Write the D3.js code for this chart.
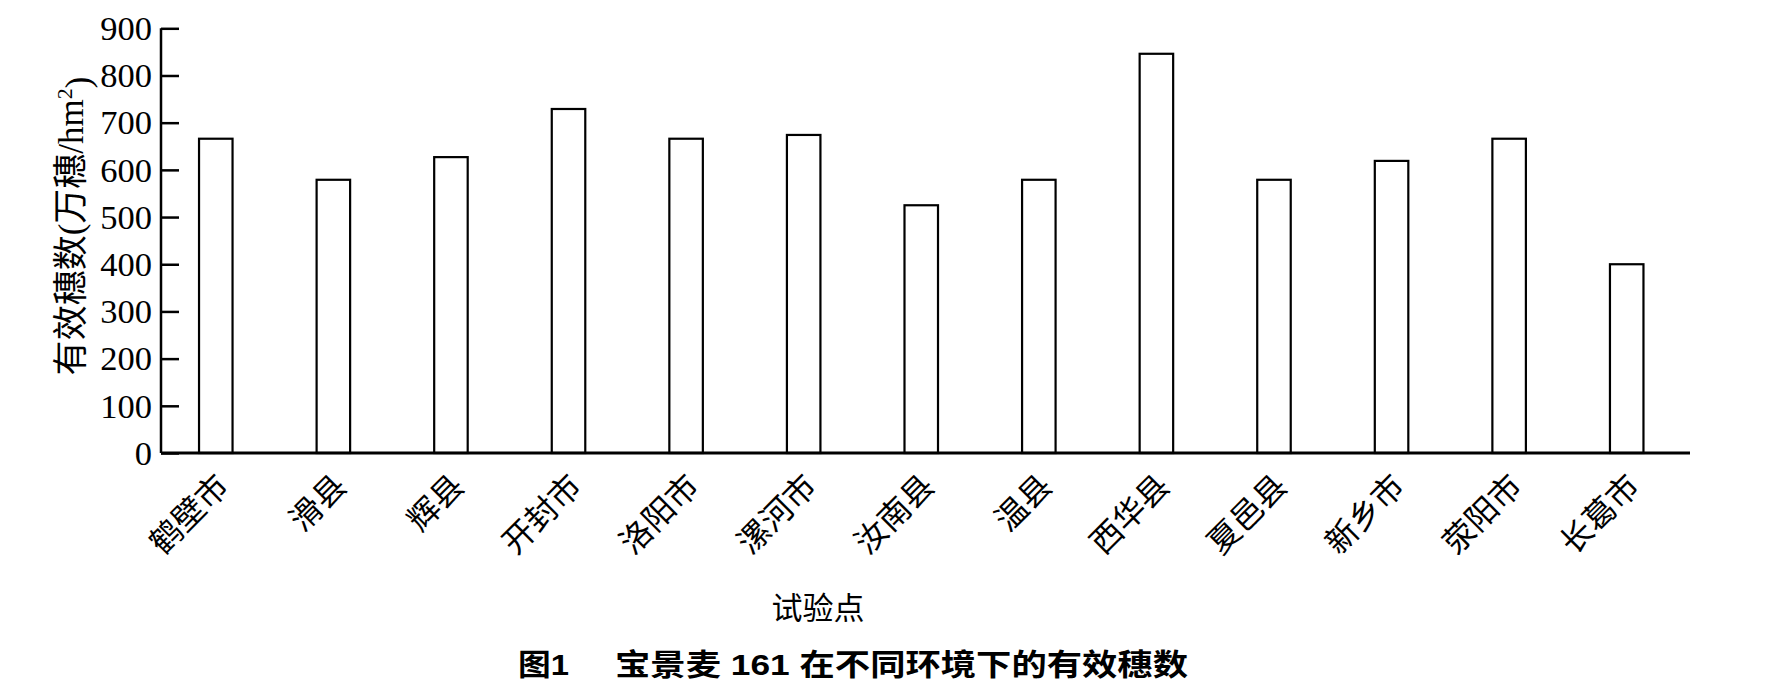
<!DOCTYPE html>
<html>
<head>
<meta charset="utf-8">
<script src="https://cdn.jsdelivr.net/npm/d3@7"></script>
<style>
  html, body { margin: 0; padding: 0; background: #fff; }
  svg { display: block; }
</style>
</head>
<body>
<svg id="chart" width="1780" height="696"></svg>
<script>
const categories = ["鹤壁市", "滑县", "辉县", "开封市", "洛阳市", "漯河市", "汝南县", "温县", "西华县", "夏邑县", "新乡市", "荥阳市", "长葛市"];
const values = [666, 579, 627, 729, 666, 674, 525, 579, 846, 579, 619, 666, 400];
const yTicks = [0, 100, 200, 300, 400, 500, 600, 700, 800, 900];
const yLabelMain = "有效穗数(万穗/hm";
const yLabelSup = "2";
const yLabelEnd = ")";
const xTitle = "试验点";
const captionNo = "图1";
const captionText = "宝景麦 161 在不同环境下的有效穗数";

const svg = d3.select("#chart");
const serif = "'Liberation Serif', 'Noto Sans CJK SC', serif";
const cjk = "'Noto Sans CJK SC', sans-serif";

const x = d3.scaleBand().domain(categories).range([157, 1685.5])
  .paddingInner(0.715).paddingOuter(0.3575);
const y = d3.scaleLinear().domain([0, 900]).range([453, 28.3]);

// bars
svg.append("g").selectAll("rect").data(values).join("rect")
  .attr("x", (d, i) => x(categories[i]))
  .attr("y", d => y(d))
  .attr("width", x.bandwidth())
  .attr("height", d => y(0) - y(d))
  .attr("fill", "#fff")
  .attr("stroke", "#000")
  .attr("stroke-width", 2.2);

// y axis (ticks inward)
const yAxis = d3.axisRight(y).tickValues(yTicks).tickSize(18).tickFormat("");
const gy = svg.append("g").attr("transform", "translate(161,0)").call(yAxis);
gy.select(".domain").attr("stroke", "#000").attr("stroke-width", 2.5).attr("d", `M0,${y(900)}V${y(0)}`);
gy.selectAll(".tick line").attr("stroke", "#000").attr("stroke-width", 2.5);

svg.append("g").selectAll("text").data(yTicks).join("text")
  .attr("x", 152)
  .attr("y", d => y(d))
  .attr("dy", "0.34em")
  .attr("text-anchor", "end")
  .style("font-family", serif)
  .style("font-size", "34.5px")
  .text(d => d);

// x axis line
const xAxis = d3.axisBottom(x).tickSize(0).tickFormat("");
const gx = svg.append("g").attr("transform", `translate(0,${y(0)})`).call(xAxis);
gx.select(".domain").attr("stroke", "#000").attr("stroke-width", 3).attr("d", "M161,0H1690");

// x labels
svg.append("g").selectAll("text").data(categories).join("text")
  .attr("transform", d => `translate(${x(d) + x.bandwidth() / 2 + 15},488) rotate(-45)`)
  .attr("text-anchor", "end")
  .style("font-family", cjk)
  .style("font-size", "32px")
  .text(d => d);

// y label
const yl = svg.append("text")
  .attr("transform", "translate(83,226) rotate(-90)")
  .attr("text-anchor", "middle")
  .style("font-family", serif)
  .style("font-size", "35px");
yl.append("tspan").text(yLabelMain);
yl.append("tspan").attr("dy", "-0.5em").style("font-size", "22px").text(yLabelSup);
yl.append("tspan").attr("dy", "0.5em").text(yLabelEnd);

// x title
svg.append("text")
  .attr("x", 818).attr("y", 619)
  .attr("text-anchor", "middle")
  .style("font-family", cjk)
  .style("font-size", "31px")
  .text(xTitle);

// caption
svg.append("text")
  .attr("x", 518).attr("y", 675)
  .attr("textLength", 51).attr("lengthAdjust", "spacingAndGlyphs")
  .style("font-family", "'Liberation Sans', 'Noto Sans CJK SC', sans-serif")
  .style("font-size", "30px").style("font-weight", "bold")
  .text(captionNo);
svg.append("text")
  .attr("x", 615).attr("y", 675)
  .attr("textLength", 573).attr("lengthAdjust", "spacingAndGlyphs")
  .style("font-family", "'Liberation Sans', 'Noto Sans CJK SC', sans-serif")
  .style("font-size", "30px").style("font-weight", "bold")
  .text(captionText);
</script>
</body>
</html>
